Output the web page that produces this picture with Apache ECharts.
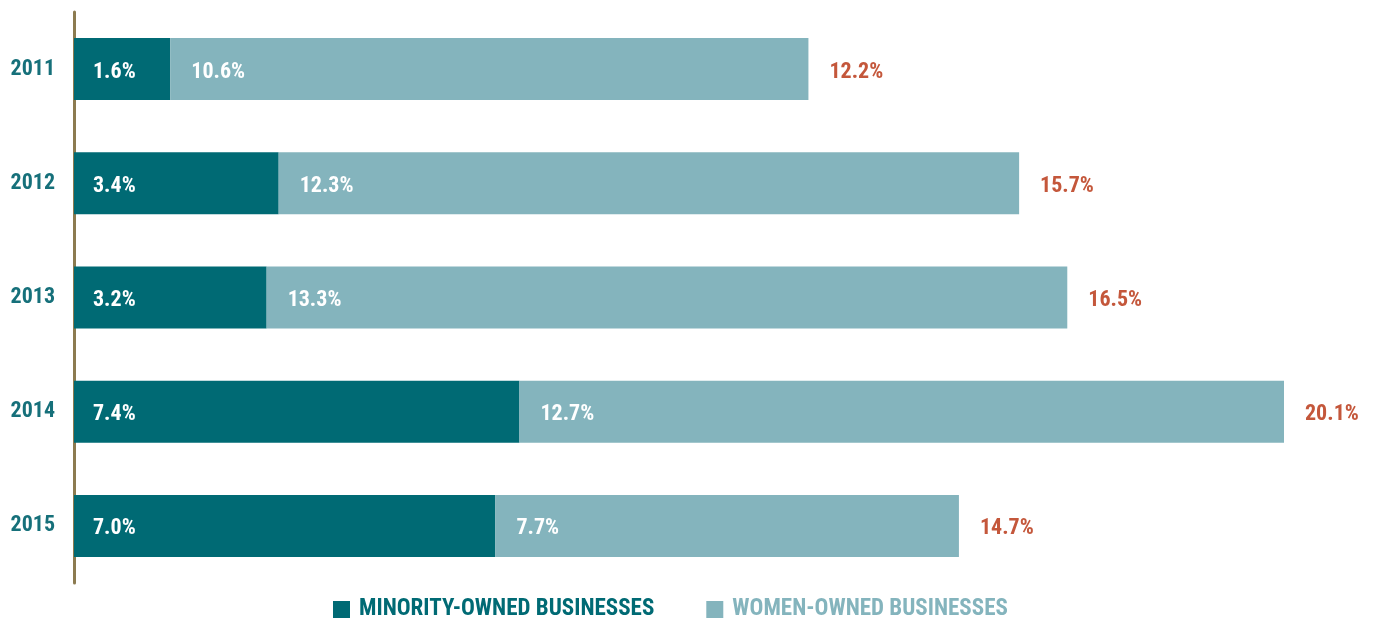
<!DOCTYPE html>
<html>
<head>
<meta charset="utf-8">
<script src="https://cdn.jsdelivr.net/npm/echarts@6/dist/echarts.min.js"></script>
<style>
  html, body { margin: 0; padding: 0; background: #fff; }
  #chart { width: 1381px; height: 621px; }
</style>
</head>
<body>
<div id="chart"></div>
<script>
// Share of spending by year, in percent
const years = ['2011', '2012', '2013', '2014', '2015'];
const minorityOwned = [1.6, 3.4, 3.2, 7.4, 7.0];
const womenOwned = [10.6, 12.3, 13.3, 12.7, 7.7];
const totals = [12.2, 15.7, 16.5, 20.1, 14.7];

const FONT = '"Liberation Sans Narrow", "Arial Narrow", "Roboto Condensed", "Liberation Sans", sans-serif';
const DARK = '#006a74';
const LIGHT = '#84b4bd';
const RED = '#c4573b';
const LABEL_SIZE = 22;

const chart = echarts.init(document.getElementById('chart'), null, { renderer: 'canvas' });

const pct = v => v.toFixed(1) + '%';

chart.setOption({
  animation: false,
  grid: { left: 74, top: 12, width: 1210, height: 571, containLabel: false },
  xAxis: {
    type: 'value', min: 0, max: 20.1,
    show: false
  },
  yAxis: {
    type: 'category',
    data: years,
    inverse: true,
    axisLine: { show: true, lineStyle: { color: '#8c7b50', width: 3 } },
    axisTick: { show: false },
    axisLabel: {
      margin: 19,
      color: '#16707a',
      fontFamily: FONT,
      fontWeight: 'bold',
      fontSize: LABEL_SIZE,
      padding: [6, 0, 0, 0]
    }
  },
  legend: {
    bottom: -5,
    left: 328,
    itemWidth: 17,
    itemHeight: 17,
    itemGap: 52,
    icon: 'rect',
    textStyle: { fontFamily: FONT, fontWeight: 'bold', fontSize: 23, padding: [0, 0, 0, 4] },
    data: [
      { name: 'MINORITY-OWNED BUSINESSES', textStyle: { color: DARK } },
      { name: 'WOMEN-OWNED BUSINESSES', textStyle: { color: LIGHT } }
    ]
  },
  series: [
    {
      name: 'MINORITY-OWNED BUSINESSES',
      type: 'bar',
      stack: 'share',
      barWidth: 62,
      itemStyle: { color: DARK },
      label: {
        show: true, position: 'insideLeft', distance: 19, offset: [0, 3],
        formatter: p => pct(p.value),
        color: '#fff', fontFamily: FONT, fontWeight: 'bold', fontSize: LABEL_SIZE
      },
      data: minorityOwned
    },
    {
      name: 'WOMEN-OWNED BUSINESSES',
      type: 'bar',
      stack: 'share',
      barWidth: 62,
      itemStyle: { color: LIGHT },
      label: {
        show: true, position: 'insideLeft', distance: 21, offset: [0, 3],
        formatter: p => pct(p.value),
        color: '#fff', fontFamily: FONT, fontWeight: 'bold', fontSize: LABEL_SIZE
      },
      data: womenOwned
    },
    {
      // invisible series carrying the year totals at the bar ends
      name: 'total',
      type: 'bar',
      stack: 'share',
      barWidth: 62,
      itemStyle: { color: 'transparent' },
      label: {
        show: true, position: 'insideLeft', distance: 21, offset: [0, 3],
        formatter: p => pct(totals[p.dataIndex]),
        color: RED, fontFamily: FONT, fontWeight: 'bold', fontSize: LABEL_SIZE
      },
      data: totals.map(() => 0.0001),
      silent: true
    }
  ]
});
</script>
</body>
</html>
